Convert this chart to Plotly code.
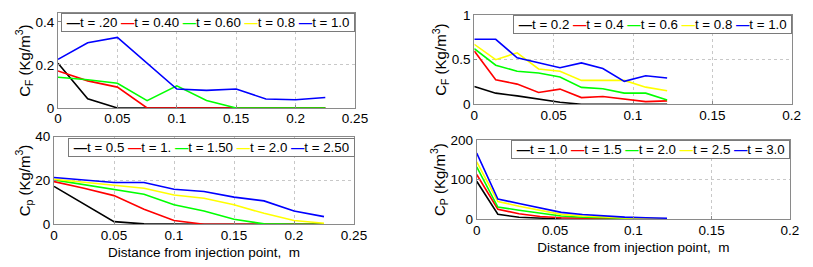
import plotly.graph_objects as go

# ---------------- data ----------------
x_left = [0, 0.025, 0.05, 0.075, 0.1, 0.125, 0.15, 0.175, 0.2, 0.225]
x_right = [0, 0.0135, 0.027, 0.0405, 0.054, 0.0675, 0.081, 0.0945, 0.108, 0.1215]

colors = ["#000000", "#ff0000", "#00ff00", "#ffff00", "#0000ff"]

# top-left: C_F
tl_names = ["t = .20", "t = 0.40", "t = 0.60", "t = 0.8", "t = 1.0"]
tl_black = [0.208, 0.043, 0, 0, 0, 0, 0, 0, 0, 0]
tl_red = [0.172, 0.126, 0.097, 0, 0, 0, 0, 0, 0, 0]
tl_green = [0.143, 0.131, 0.115, 0.034, 0.103, 0.035, 0, 0, 0, 0]
tl_yellow = []
tl_blue = [0.226, 0.303, 0.328, 0.208, 0.088, 0.082, 0.088, 0.042, 0.038, 0.049]

# bottom-left: C_p
bl_names = ["t = 0.5", "t = 1.", "t = 1.50", "t = 2.0", "t = 2.50"]
bl_black = [17.3, 9.3, 1.2, 0.2, 0, 0, 0, 0, 0, 0]
bl_red = [19.5, 16.5, 13.1, 6.9, 1.7, 0, 0, 0, 0, 0]
bl_green = [20.3, 18.0, 16.0, 13.7, 8.9, 6.1, 2.3, 0.2, 0, 0]
bl_yellow = [20.6, 19.2, 18.0, 16.5, 13.4, 11.9, 8.9, 5.0, 1.7, 0.5]
bl_blue = [21.4, 20.3, 19.1, 19.1, 16.0, 15.0, 12.4, 10.7, 6.1, 3.5]

# top-right: C_F
tr_names = ["t = 0.2", "t = 0.4", "t = 0.6", "t = 0.8", "t = 1.0"]
tr_black = [0.20, 0.125, 0.094, 0.06, 0.023, 0, 0, 0, 0, 0]
tr_red = [0.596, 0.275, 0.226, 0.132, 0.17, 0.075, 0.087, 0.06, 0.03, 0.038]
tr_green = [0.623, 0.438, 0.37, 0.351, 0.306, 0.189, 0.174, 0.125, 0.125, 0.049]
tr_yellow = [0.672, 0.50, 0.577, 0.396, 0.37, 0.268, 0.268, 0.268, 0.192, 0.151]
tr_blue = [0.728, 0.728, 0.52, 0.464, 0.41, 0.464, 0.40, 0.257, 0.32, 0.294]

# bottom-right: C_P
br_names = ["t = 1.0", "t = 1.5", "t = 2.0", "t = 2.5", "t = 3.0"]
br_black = [96, 12.8, 5, 2, 0.8, 0.3, 0, 0, 0, 0]
br_red = [113, 25.5, 14, 7, 4, 2.5, 1.5, 1, 0.5, 0.3]
br_green = [132, 31, 23, 15, 8.5, 5, 3.2, 2, 1.5, 1]
br_yellow = [145, 45, 33, 22, 12.5, 8.5, 5.5, 3.5, 2.5, 1.5]
br_blue = [167, 51, 40, 28, 17.5, 12, 8.5, 5.5, 4, 2.5]

xlabel = "Distance from injection point,&nbsp; m"

# ---------------- figure ----------------
W, H = 813, 267
FONT = "Liberation Sans, Arial, sans-serif"
fig = go.Figure()

panels = [
    dict(series=[tl_black, tl_red, tl_green, tl_yellow, tl_blue], names=tl_names, x=x_left, ax="",
         xd=(58, 355), yd=(13.3, 108), xr=[0, 0.25], yr=[0, 0.44], yt="C<sub>F</sub> (Kg/m<sup>3</sup>)",
         xt=None, dx=0.05, dy=0.2, lg=(355, 13)),
    dict(series=[bl_black, bl_red, bl_green, bl_yellow, bl_blue], names=bl_names, x=x_left, ax="2",
         xd=(54, 354), yd=(136.7, 224.3), xr=[0, 0.25], yr=[0, 40], yt="C<sub>p</sub> (Kg/m<sup>3</sup>)",
         xt=xlabel, dx=0.05, dy=20, lg=(355, 138)),
    dict(series=[tr_black, tr_red, tr_green, tr_yellow, tr_blue], names=tr_names, x=x_right, ax="3",
         xd=(474.3, 791.7), yd=(15, 104.3), xr=[0, 0.2], yr=[0, 1], yt="C<sub>F</sub> (Kg/m<sup>3</sup>)",
         xt=None, dx=0.05, dy=0.5, lg=(792, 15)),
    dict(series=[br_black, br_red, br_green, br_yellow, br_blue], names=br_names, x=x_right, ax="4",
         xd=(476.7, 790), yd=(140, 219.3), xr=[0, 0.2], yr=[0, 200], yt="C<sub>P</sub> (Kg/m<sup>3</sup>)",
         xt=xlabel, dx=0.05, dy=100, lg=(790, 140)),
]

axis_common = dict(
    showline=True, mirror=True, linecolor="#8a8a8a", linewidth=1,
    showgrid=True, gridcolor="#c8c8c8", griddash="dot", gridwidth=1,
    zeroline=False, ticks="inside", ticklen=3, tickcolor="#8a8a8a",
    tickfont=dict(family=FONT, size=13.5, color="#000"), automargin=False,
)

for p in panels:
    xa = "x" + p["ax"]
    ya = "y" + p["ax"]
    for ys, nm, col in zip(p["series"], p["names"], colors):
        if len(ys) == 0:
            continue
        fig.add_trace(go.Scatter(x=p["x"][:len(ys)], y=ys, mode="lines", name=nm,
                                 line=dict(color=col, width=1.6), xaxis=xa, yaxis=ya,
                                 showlegend=False))
    xkey = "xaxis" + p["ax"]
    ykey = "yaxis" + p["ax"]
    xdom = [p["xd"][0] / W, p["xd"][1] / W]
    ydom = [1 - p["yd"][1] / H, 1 - p["yd"][0] / H]
    xaxis = dict(axis_common, domain=xdom, range=p["xr"], dtick=p["dx"], tick0=0,
                 anchor=ya, tickformat="~g", ticklabelstandoff=-2)
    if p["xt"]:
        xaxis["title"] = dict(text=p["xt"], font=dict(family=FONT, size=13.5, color="#000"), standoff=6)
    yaxis = dict(axis_common, domain=ydom, range=p["yr"], dtick=p["dy"], tick0=0,
                 anchor=xa, tickformat="~g",
                 title=dict(text=p["yt"], font=dict(family=FONT, size=15, color="#000"), standoff=1))
    fig.update_layout(**{xkey: xaxis, ykey: yaxis})

    parts = []
    for nm, col in zip(p["names"], colors):
        parts.append("<span style='color:%s'><b>\u2014</b></span>%s" % (col, nm))
    fig.add_annotation(
        text=" " + " ".join(parts) + " ", xref="paper", yref="paper",
        x=p["lg"][0] / W, y=1 - p["lg"][1] / H, xanchor="right", yanchor="top",
        showarrow=False, bgcolor="#ffffff", bordercolor="#7a7a7a", borderwidth=1, borderpad=1,
        font=dict(family=FONT, size=13.3, color="#000"),
    )

fig.update_layout(
    width=W, height=H, margin=dict(l=0, r=0, t=0, b=0),
    paper_bgcolor="#ffffff", plot_bgcolor="#ffffff",
    showlegend=False, font=dict(family=FONT, size=13, color="#000"),
)

fig.write_html("out.html", config={"displayModeBar": False},
               post_script="document.body.style.margin='0';")
